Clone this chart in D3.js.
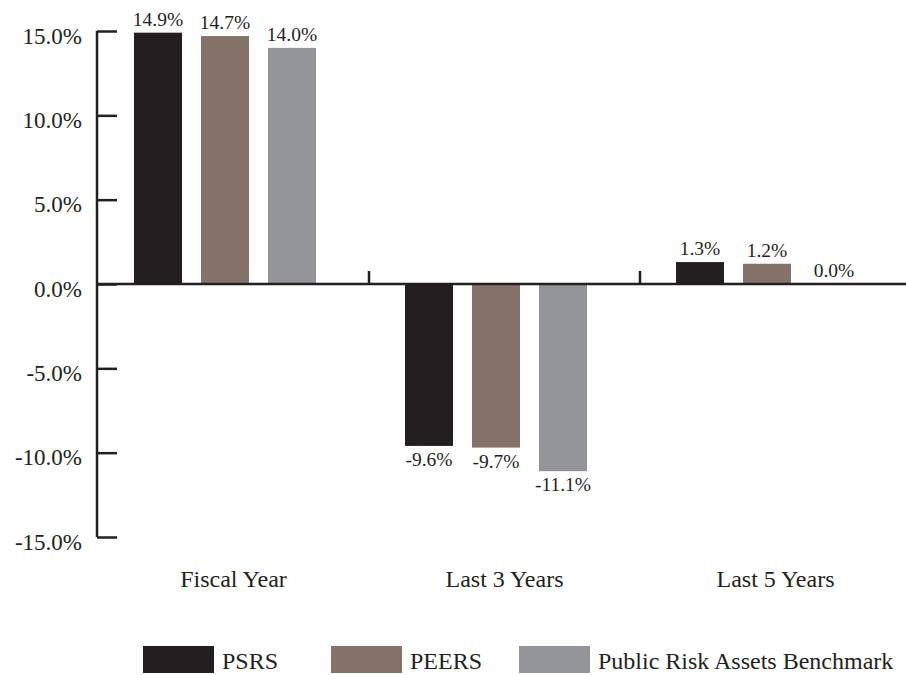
<!DOCTYPE html>
<html><head><meta charset="utf-8">
<script src="https://cdn.jsdelivr.net/npm/d3@7"></script>
<style>body{margin:0;background:#fff}svg{display:block}text{font-family:"Liberation Serif","Times New Roman",serif;fill:#231f20}</style>
</head><body><svg id="c" width="906" height="675"></svg>
<script>
const categories = ["Fiscal Year", "Last 3 Years", "Last 5 Years"];
const seriesNames = ["PSRS", "PEERS", "Public Risk Assets Benchmark"];
const psrs = [14.9, -9.6, 1.3];
const peers = [14.7, -9.7, 1.2];
const benchmark = [14.0, -11.1, 0.0];
const yTicks = [-15, -10, -5, 0, 5, 10, 15];
const colors = ["#231f20", "#85736a", "#939598"];

const values = [psrs, peers, benchmark];
const svg = d3.select("#c");
const x0 = d3.scaleBand().domain(categories).range([98, 911]);
const x1 = d3.scaleBand().domain(seriesNames).range([36, 218]).paddingInner(19/67);
const y = d3.scaleLinear().domain([-15, 15]).range([537, 31]);
const fmt = v => v.toFixed(1) + "%";

// y axis
const yAxis = d3.axisRight(y).tickValues(yTicks).tickSize(20).tickFormat("");
const ya = svg.append("g").attr("transform", "translate(97,0)").call(yAxis);
ya.select(".domain").attr("d", `M0,${y(15)}V${y(-15)}`).attr("stroke", "#231f20").attr("stroke-width", 2.5);
ya.selectAll(".tick line").attr("stroke", "#231f20").attr("stroke-width", 2.5);
svg.append("g").selectAll("text").data(yTicks).join("text")
  .attr("x", 82).attr("y", d => y(d) + 12.5).attr("text-anchor", "end")
  .style("font-size", "23px").text(fmt);

// bars
const g = svg.append("g");
categories.forEach((c, ci) => {
  seriesNames.forEach((s, si) => {
    const v = values[si][ci];
    const bx = x0(c) + x1(s);
    g.append("rect").attr("x", bx).attr("width", x1.bandwidth())
      .attr("y", Math.min(y(v), y(0))).attr("height", Math.abs(y(v) - y(0)))
      .attr("fill", colors[si]);
    g.append("text").attr("x", bx + x1.bandwidth() / 2)
      .attr("y", v >= 0 ? y(v) - 7 : y(v) + 20)
      .attr("text-anchor", "middle").style("font-size", "19.5px").text(fmt(v));
  });
});

// zero line and category ticks
svg.append("line").attr("x1", 97).attr("x2", 906).attr("y1", y(0)).attr("y2", y(0))
  .attr("stroke", "#231f20").attr("stroke-width", 2.5);
svg.append("g").selectAll("line").data(categories.slice(1)).join("line")
  .attr("x1", d => x0(d)).attr("x2", d => x0(d)).attr("y1", y(0) - 13).attr("y2", y(0))
  .attr("stroke", "#231f20").attr("stroke-width", 2.5);

// category labels
svg.append("g").selectAll("text").data(categories).join("text")
  .attr("x", d => x0(d) + x0.bandwidth() / 2).attr("y", 587)
  .attr("text-anchor", "middle").style("font-size", "24px").text(d => d);

// legend
const lx = [143, 331, 519];
const lg = svg.append("g");
seriesNames.forEach((s, i) => {
  lg.append("rect").attr("x", lx[i]).attr("y", 646).attr("width", 71).attr("height", 27).attr("fill", colors[i]);
  lg.append("text").attr("x", lx[i] + 79).attr("y", 669).style("font-size", "24px").text(s);
});
</script></body></html>
